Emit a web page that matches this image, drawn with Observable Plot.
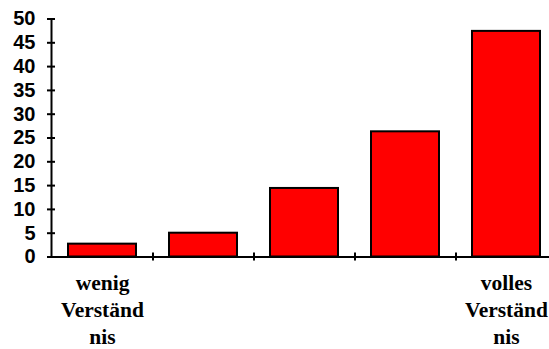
<!DOCTYPE html>
<html>
<head>
<meta charset="utf-8">
<script src="https://cdn.jsdelivr.net/npm/d3@7"></script>
<script src="https://cdn.jsdelivr.net/npm/@observablehq/plot@0.6"></script>
<style>
  html, body { margin: 0; padding: 0; background: #fff; overflow: hidden; }
</style>
</head>
<body>
<div id="chart"></div>
<script>
const categories = ["1", "2", "3", "4", "5"];
const values = [2.7, 5.0, 14.4, 26.3, 47.4];
const categoryLabels = ["wenig\nVerständ\nnis", "", "", "", "volles\nVerständ\nnis"];
const yTicks = [0, 5, 10, 15, 20, 25, 30, 35, 40, 45, 50];

const data = categories.map((c, i) => ({category: c, value: values[i]}));
const step = 101;

const chart = Plot.plot({
  width: 549,
  height: 349,
  marginLeft: 51,
  marginRight: -7,
  marginTop: 18.5,
  marginBottom: 92.5,
  x: {domain: categories, paddingInner: 0.33, paddingOuter: 0.165, axis: null},
  y: {domain: [0, 50], axis: null},
  marks: [
    Plot.barY(data, {x: "category", y: "value", fill: "#ff0000", stroke: "#000", strokeWidth: 2}),
    Plot.ruleY([0], {stroke: "#000", strokeWidth: 2}),
    Plot.frame({anchor: "left", stroke: "#000", strokeWidth: 2}),
    Plot.ruleX(categories.slice(1), {x: d => d, dx: -step / 2, y1: -0.85, y2: 0.85, stroke: "#000", strokeWidth: 2}),
    Plot.axisY({
      ticks: yTicks, tickSize: 8, dx: 4, tickPadding: 12, strokeWidth: 2,
      fontSize: 20, fontWeight: "bold", fontFamily: "Liberation Sans, Arial, sans-serif",
      fill: "#000", stroke: "#000", label: null
    }),
    Plot.axisX({
      tickSize: 0, tickPadding: 14,
      tickFormat: (d, i) => categoryLabels[categories.indexOf(d)],
      fontSize: 21.5, fontWeight: "bold", fontFamily: "Liberation Serif, 'Times New Roman', serif",
      lineHeight: 1.26, fill: "#000", label: null
    })
  ]
});
document.getElementById("chart").appendChild(chart);
</script>
</body>
</html>
